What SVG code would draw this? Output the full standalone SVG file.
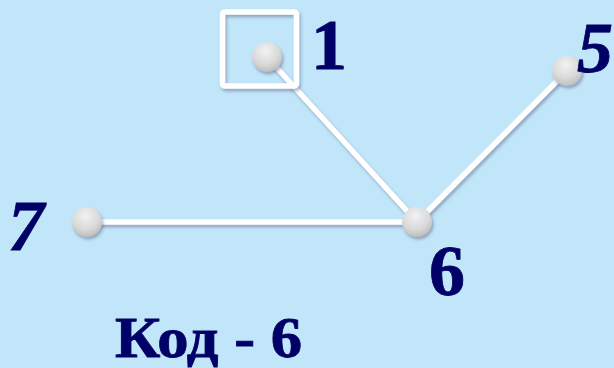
<svg xmlns="http://www.w3.org/2000/svg" width="614" height="368" viewBox="0 0 614 368">
<defs>
<radialGradient id="ng" cx="0.45" cy="0.3" r="0.75">
<stop offset="0" stop-color="#f2f2f2"/>
<stop offset="0.6" stop-color="#d9d9d9"/>
<stop offset="1" stop-color="#b8b8b8"/>
</radialGradient>
<filter id="sh" x="-20%" y="-20%" width="140%" height="140%">
<feDropShadow dx="1.5" dy="2.5" stdDeviation="1.5" flood-color="#557" flood-opacity="0.45"/>
</filter>
</defs>
<style>
.e{stroke:#fff;stroke-width:5.5;fill:none;stroke-linecap:butt}
.n{fill:url(#ng)}
.t{font-family:"Liberation Serif","Times New Roman",serif;font-weight:bold;fill:#000066;font-size:72px;stroke:#000066;stroke-width:0.8}
.i{font-style:italic}
</style>
<rect width="614" height="368" fill="#c1e6fa"/>
<g id="connectors" filter="url(#sh)">
<line class="e" x1="267" y1="57" x2="417" y2="222"/>
<line class="e" x1="567" y1="71" x2="417" y2="222"/>
<line class="e" x1="87" y1="222" x2="417" y2="222"/>
</g>
<g id="highlight" filter="url(#sh)">
<rect x="222.5" y="12" width="74" height="74" rx="2" fill="none" stroke="#fff" stroke-width="5.5"/>
</g>
<g id="node1"><circle class="n" cx="267" cy="57" r="15" filter="url(#sh)"/><text class="t" x="311" y="69">1</text></g>
<g id="node5"><circle class="n" cx="567" cy="71" r="15" filter="url(#sh)"/><text class="t i" x="577" y="72">5</text></g>
<g id="node6"><circle class="n" cx="417" cy="222" r="15" filter="url(#sh)"/><text class="t" x="429" y="295">6</text></g>
<g id="node7"><circle class="n" cx="87" cy="222" r="15" filter="url(#sh)"/><text class="t i" x="8" y="250">7</text></g>
<text class="t" x="115" y="357" style="font-size:57px" textLength="187" lengthAdjust="spacingAndGlyphs">Код - 6</text>
</svg>
